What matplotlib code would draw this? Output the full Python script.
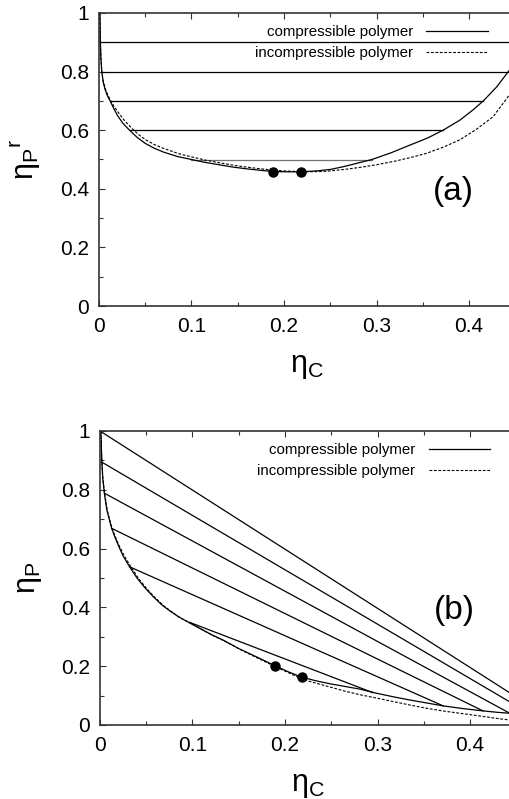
import matplotlib
matplotlib.use("Agg")
import matplotlib.pyplot as plt
from matplotlib.ticker import MultipleLocator, FuncFormatter

plt.rcParams['font.family'] = ['Liberation Sans', 'DejaVu Sans']
plt.rcParams['mathtext.default'] = 'regular'

# panel (a): reservoir packing fraction vs colloid packing fraction
comp_a_x = [0.001, 0.0015, 0.002, 0.003, 0.0045, 0.0065, 0.009, 0.012, 0.016, 0.02,
            0.026, 0.033, 0.041, 0.05, 0.06, 0.07, 0.085, 0.1, 0.115, 0.13,
            0.145, 0.16, 0.175, 0.188, 0.203, 0.218, 0.235, 0.25, 0.265, 0.28,
            0.295, 0.315, 0.336, 0.355, 0.372, 0.39, 0.405, 0.4155, 0.43, 0.4425,
            0.46]
comp_a_y = [1.0, 0.9, 0.85, 0.8, 0.765, 0.74, 0.718, 0.7, 0.674, 0.65,
            0.623, 0.6, 0.576, 0.555, 0.538, 0.525, 0.51, 0.5, 0.49, 0.482,
            0.474, 0.468, 0.463, 0.459, 0.458, 0.458, 0.461, 0.466, 0.476, 0.488,
            0.5, 0.522, 0.549, 0.573, 0.6, 0.634, 0.671, 0.7, 0.748, 0.8,
            0.86]
incomp_a_x = [0.001, 0.0015, 0.002, 0.003, 0.0045, 0.007, 0.0095, 0.012, 0.016, 0.021,
              0.027, 0.035, 0.042, 0.05, 0.06, 0.068, 0.086, 0.1, 0.115, 0.13,
              0.15, 0.17, 0.19, 0.207, 0.2245, 0.24, 0.25, 0.265, 0.282, 0.3,
              0.318, 0.336, 0.354, 0.372, 0.39, 0.408, 0.426, 0.441, 0.455]
incomp_a_y = [1.0, 0.9, 0.85, 0.8, 0.768, 0.74, 0.72, 0.705, 0.682, 0.66,
              0.635, 0.608, 0.587, 0.568, 0.551, 0.54, 0.52, 0.509, 0.498, 0.489,
              0.478, 0.47, 0.463, 0.46, 0.458, 0.459, 0.461, 0.466, 0.473, 0.482,
              0.493, 0.506, 0.521, 0.542, 0.567, 0.603, 0.646, 0.709, 0.77]
tie_a_level = [0.9, 0.8, 0.7, 0.6, 0.5]
tie_a_left = [0.0015, 0.003, 0.012, 0.033, 0.1]
tie_a_right = [0.47, 0.4425, 0.4155, 0.372, 0.295]
crit_a_x = [0.188, 0.218]
crit_a_y = [0.458, 0.458]

# panel (b): system packing fractions
comp_b_x = [0.001, 0.0015, 0.002, 0.003, 0.0047, 0.0075, 0.0126, 0.016, 0.02, 0.025,
            0.032, 0.04, 0.049, 0.058, 0.067, 0.076, 0.085, 0.097, 0.11, 0.12,
            0.133, 0.15, 0.169, 0.189, 0.2035, 0.2187, 0.234, 0.249, 0.265, 0.281,
            0.299, 0.317, 0.335, 0.353, 0.371, 0.392, 0.414, 0.43, 0.443, 0.46]
comp_b_y = [0.998, 0.94, 0.896, 0.84, 0.788, 0.73, 0.669, 0.64, 0.61, 0.575,
            0.538, 0.5, 0.465, 0.435, 0.408, 0.387, 0.368, 0.347, 0.325, 0.308,
            0.289, 0.26, 0.232, 0.202, 0.181, 0.162, 0.15, 0.14, 0.131, 0.122,
            0.108, 0.096, 0.085, 0.075, 0.065, 0.056, 0.048, 0.043, 0.04, 0.037]
incomp_b_x = [0.001, 0.0015, 0.002, 0.003, 0.005, 0.008, 0.013, 0.017, 0.021, 0.027,
              0.034, 0.042, 0.051, 0.06, 0.069, 0.078, 0.087, 0.1, 0.113, 0.123,
              0.135, 0.152, 0.17, 0.19, 0.205, 0.219, 0.235, 0.25, 0.265, 0.281,
              0.3, 0.318, 0.335, 0.353, 0.37, 0.389, 0.41, 0.43, 0.443, 0.46]
incomp_b_y = [0.998, 0.94, 0.896, 0.84, 0.788, 0.728, 0.669, 0.637, 0.608, 0.571,
              0.535, 0.497, 0.462, 0.432, 0.405, 0.384, 0.364, 0.343, 0.32, 0.303,
              0.285, 0.256, 0.228, 0.198, 0.176, 0.155, 0.141, 0.128, 0.115, 0.103,
              0.091, 0.079, 0.068, 0.057, 0.048, 0.04, 0.031, 0.022, 0.017, 0.012]
tie_b_left_x = [0.0, 0.002, 0.005, 0.0126, 0.032, 0.097]
tie_b_left_y = [1.0, 0.894, 0.788, 0.669, 0.538, 0.349]
tie_b_right_x = [0.48, 0.465, 0.443, 0.414, 0.371, 0.295]
tie_b_right_y = [0.035, 0.038, 0.04, 0.048, 0.065, 0.11]
crit_b_x = [0.189, 0.2187]
crit_b_y = [0.202, 0.162]

labels = ["compressible polymer", "incompressible polymer"]


def estilo(ax, ylabel, panel):
    ax.set_xlim(0, 0.45)
    ax.set_ylim(0, 1)
    ax.xaxis.set_major_locator(MultipleLocator(0.1))
    ax.xaxis.set_minor_locator(MultipleLocator(0.05))
    ax.yaxis.set_major_locator(MultipleLocator(0.2))
    ax.yaxis.set_minor_locator(MultipleLocator(0.1))
    fmt = FuncFormatter(lambda v, p: "%g" % round(v, 3))
    ax.xaxis.set_major_formatter(fmt)
    ax.yaxis.set_major_formatter(fmt)
    ax.tick_params(which='both', direction='in', top=True, right=True,
                   width=0.8, color='0.2')
    ax.tick_params(which='major', length=4)
    ax.tick_params(which='minor', length=3)
    ax.tick_params(axis='x', labelsize=15, pad=8)
    ax.tick_params(axis='y', labelsize=15, pad=7)
    for s in ax.spines.values():
        s.set_linewidth(1.2)
        s.set_color('0.2')
    ax.set_xlabel(r'$\eta_C$', fontsize=22, labelpad=11)
    ax.set_ylabel(ylabel, fontsize=22, labelpad=12)
    ax.text(0.383, 0.39, panel, fontsize=24, ha='center', va='center')


fig = plt.figure(figsize=(5.1, 7.99), dpi=100)
ax1 = fig.add_axes([99 / 510, 1 - 306 / 799, 416.25 / 510, 293 / 799])
ax2 = fig.add_axes([100 / 510, 1 - 725 / 799, 416.25 / 510, 294 / 799])

# (a)
for lv, xl, xr in zip(tie_a_level, tie_a_left, tie_a_right):
    c = '0.45' if lv == 0.5 else 'black'
    ax1.plot([xl, xr], [lv, lv], color=c, lw=0.9)
l1, = ax1.plot(comp_a_x, comp_a_y, color='black', lw=0.9)
l2, = ax1.plot(incomp_a_x, incomp_a_y, color='black', lw=0.8, dashes=(2.5, 1.5))
ax1.plot(crit_a_x, crit_a_y, 'o', color='black', ms=6.5)
ax1.legend([l1, l2], labels, loc='upper right', bbox_to_anchor=(0.9345, 0.958),
           markerfirst=False, frameon=False, handlelength=4.1, handletextpad=0.9,
           labelspacing=0.45, borderpad=0, borderaxespad=0, fontsize=10.8)
estilo(ax1, r'$\eta_P{}^r$', '(a)')

# (b)
for x0, y0, x1, y1 in zip(tie_b_left_x, tie_b_left_y, tie_b_right_x, tie_b_right_y):
    ax2.plot([x0, x1], [y0, y1], color='black', lw=0.9)
m1, = ax2.plot(comp_b_x, comp_b_y, color='black', lw=0.9)
m2, = ax2.plot(incomp_b_x, incomp_b_y, color='black', lw=0.8, dashes=(2.5, 1.5))
ax2.plot(crit_b_x, crit_b_y, 'o', color='black', ms=6.5)
ax2.legend([m1, m2], labels, loc='upper right', bbox_to_anchor=(0.937, 0.958),
           markerfirst=False, frameon=False, handlelength=4.1, handletextpad=0.9,
           labelspacing=0.45, borderpad=0, borderaxespad=0, fontsize=10.8)
estilo(ax2, r'$\eta_P$', '(b)')

fig.savefig("out.png", dpi=100)
